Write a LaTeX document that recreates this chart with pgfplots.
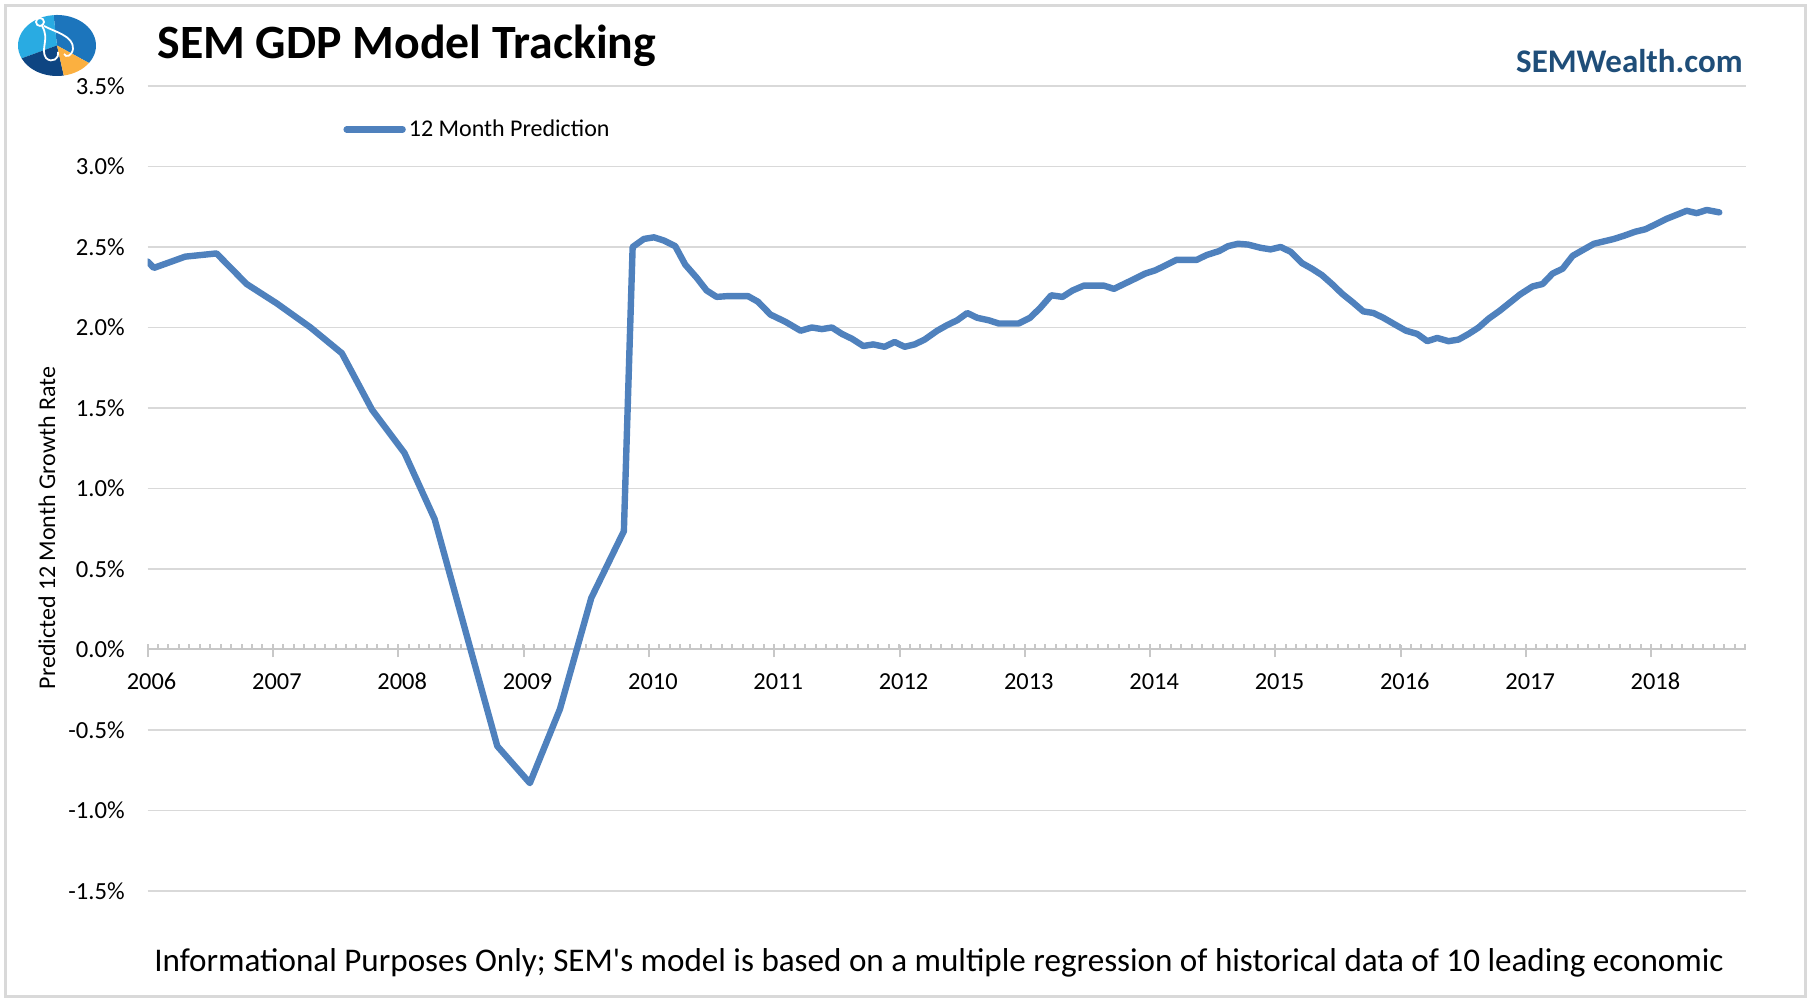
\documentclass[border=0pt]{standalone}
\usepackage{pgfplots}
\pgfplotsset{compat=1.18}
\usepackage{fontspec}
\setmainfont{Carlito}[Ligatures=TeXOff]
\definecolor{lineblue}{RGB}{79,129,189}
\definecolor{gridgray}{RGB}{217,217,217}
\definecolor{tickgray}{RGB}{200,200,200}
\definecolor{webblue}{RGB}{31,78,121}
\definecolor{logolight}{RGB}{41,171,226}
\definecolor{logomid}{RGB}{28,117,188}
\definecolor{logodark}{RGB}{14,69,130}
\definecolor{logoorange}{RGB}{251,176,64}

% 12 month GDP prediction, percent
\pgfplotstableread{
year pred
2006.00 2.41
2006.05 2.37
2006.30 2.44
2006.55 2.46
2006.79 2.27
2007.03 2.15
2007.30 2.00
2007.55 1.84
2007.79 1.49
2008.05 1.22
2008.29 0.81
2008.79 -0.60
2009.05 -0.83
2009.29 -0.37
2009.54 0.32
2009.80 0.735
2009.87 2.50
2009.96 2.55
2010.04 2.56
2010.12 2.54
2010.21 2.505
2010.29 2.39
2010.38 2.31
2010.46 2.23
2010.54 2.19
2010.63 2.195
2010.71 2.195
2010.79 2.195
2010.87 2.16
2010.97 2.08
2011.09 2.035
2011.21 1.98
2011.30 2.00
2011.38 1.99
2011.46 2.00
2011.54 1.96
2011.62 1.93
2011.71 1.885
2011.79 1.895
2011.88 1.88
2011.96 1.91
2012.04 1.88
2012.12 1.895
2012.20 1.925
2012.30 1.98
2012.38 2.015
2012.46 2.045
2012.54 2.09
2012.62 2.06
2012.71 2.045
2012.79 2.025
2012.87 2.025
2012.95 2.025
2013.04 2.06
2013.12 2.12
2013.21 2.20
2013.30 2.19
2013.38 2.23
2013.47 2.26
2013.55 2.26
2013.63 2.26
2013.71 2.24
2013.79 2.27
2013.87 2.30
2013.96 2.335
2014.04 2.355
2014.12 2.385
2014.21 2.42
2014.29 2.42
2014.37 2.42
2014.45 2.45
2014.55 2.475
2014.62 2.505
2014.70 2.52
2014.78 2.515
2014.88 2.495
2014.96 2.485
2015.04 2.50
2015.12 2.47
2015.21 2.40
2015.29 2.365
2015.37 2.325
2015.45 2.27
2015.53 2.21
2015.61 2.16
2015.70 2.10
2015.78 2.09
2015.86 2.06
2015.96 2.015
2016.04 1.98
2016.13 1.96
2016.21 1.915
2016.29 1.935
2016.38 1.915
2016.46 1.925
2016.54 1.96
2016.62 2.00
2016.70 2.055
2016.79 2.105
2016.87 2.155
2016.95 2.205
2017.05 2.255
2017.13 2.27
2017.21 2.335
2017.29 2.365
2017.37 2.445
2017.46 2.485
2017.54 2.52
2017.62 2.535
2017.70 2.55
2017.78 2.57
2017.87 2.595
2017.95 2.61
2018.03 2.64
2018.12 2.675
2018.20 2.70
2018.28 2.725
2018.36 2.71
2018.44 2.73
2018.54 2.715
}\preddata

\begin{document}
\begin{tikzpicture}
\begin{scope}[x=0.5pt,y=0.5pt]
% page size and outer frame
\path (0,0) rectangle (1810,1004);
\draw[gridgray, line width=1.5pt] (5,7) rectangle (1805,998);

% logo
\coordinate (lc) at (57,958.5);
\fill[logomid] (lc) -- ++(-35:39 and 30.5) arc[start angle=-35, end angle=95, x radius=39, y radius=30.5] -- cycle;
\fill[logolight] (lc) -- ++(95:39 and 30.5) arc[start angle=95, end angle=205, x radius=39, y radius=30.5] -- cycle;
\fill[logodark] (lc) -- ++(205:39 and 30.5) arc[start angle=205, end angle=280, x radius=39, y radius=30.5] -- cycle;
\fill[logoorange] (lc) -- ++(280:39 and 30.5) arc[start angle=280, end angle=325, x radius=39, y radius=30.5] -- cycle;
\draw[white, line width=0.9pt] (40,982) circle[radius=4];
\draw[white, line width=0.9pt] (42,978) .. controls (50,965) and (40,955) .. (46,946) .. controls (52,940) and (60,946) .. (58,952);
\draw[white, line width=0.9pt] (44,978) .. controls (55,972) and (74,968) .. (73,955) .. controls (72,948) and (66,946) .. (64,950);

% titles
\node[anchor=base west, inner sep=0pt, font=\fontsize{23.9}{28}\selectfont\bfseries] at (157,945) {SEM GDP Model Tracking};
\node[anchor=base east, inner sep=0pt, text=webblue, font=\fontsize{16.5}{20}\selectfont\bfseries] at (1743,931) {SEMWealth.com};
\node[anchor=base, inner sep=0pt, font=\fontsize{16.55}{20}\selectfont] at (939,32) {Informational Purposes Only; SEM's model is based on a multiple regression of historical data of 10 leading economic};
\node[rotate=90, inner sep=0pt, font=\fontsize{12}{14}\selectfont] at (47,476) {Predicted 12 Month Growth Rate};
\end{scope}

\begin{axis}[
  at={(73.8pt,56.5pt)}, anchor=south west,
  scale only axis, width=799pt, height=402.5pt,
  xmin=2006, xmax=2018.75, ymin=-1.5, ymax=3.5,
  axis x line*=middle, axis y line*=left,
  hide obscured x ticks=false,
  x axis line style={tickgray, line width=1pt},
  y axis line style={draw=none},
  ytick={-1.5,-1,...,3.5},
  xtick={2006,...,2018},
  minor xtick={2006,2006.0833333,...,2018.76},
  tick align=inside,
  major tick length=6pt, minor tick length=2.5pt,
  xtick style={tickgray, line width=1pt},
  major tick style={yshift=-4pt},
  minor tick style={tickgray, line width=1pt},
  ytick style={draw=none},
  ymajorgrids, grid style={gridgray, line width=0.75pt},
  /pgf/number format/assume math mode=true,
  xticklabel style={anchor=center, yshift=-16pt, xshift=2pt, font=\fontsize{12.2}{14}\selectfont, /pgf/number format/1000 sep={}},
  yticklabel style={anchor=east, inner sep=0pt, xshift=-11.3pt, font=\fontsize{12.3}{14}\selectfont},
  yticklabel={\pgfmathprintnumber[fixed, fixed zerofill, precision=1]{\tick}\%},
  legend style={draw=none, fill=none, at={(axis description cs:0.1223,0.946)}, anchor=west, inner sep=0pt, font=\fontsize{12}{14}\selectfont, nodes={inner sep=1.5pt}},
  legend image code/.code={\draw[#1] (0pt,0pt) -- (28pt,0pt);},
]
\addplot[lineblue, line width=3.2pt, line cap=round, line join=round] table[x=year, y=pred] {\preddata};
\addlegendentry{12 Month Prediction}
\end{axis}
\end{tikzpicture}
\end{document}
